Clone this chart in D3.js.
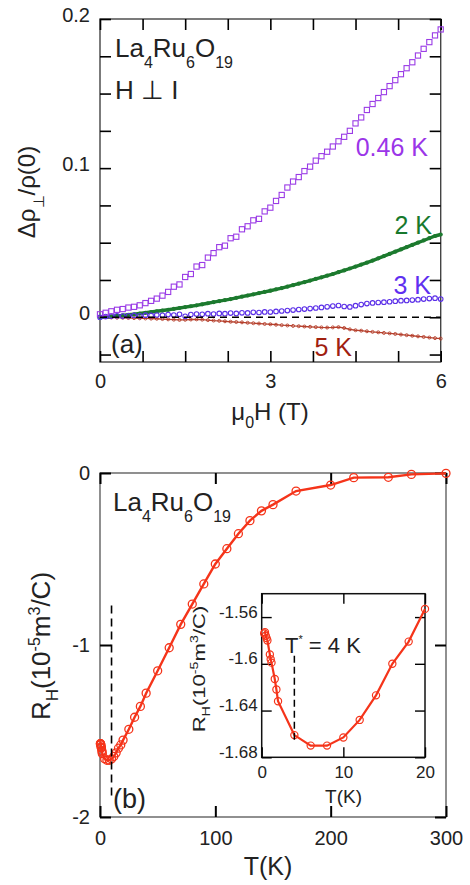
<!DOCTYPE html>
<html>
<head>
<meta charset="utf-8">
<script src="https://cdn.jsdelivr.net/npm/d3@7"></script>
<style>
  body { margin: 0; background: #fff; }
  svg { display: block; }
</style>
</head>
<body>
<div id="chart"></div>
<script>

// ---------- panel (a): magnetoresistance vs field ----------
let fieldH = [0,0.1,0.2,0.3,0.4,0.5,0.6,0.7,0.8,0.9,
	1.0,1.1,1.2,1.3,1.4,1.5,1.6,1.7,1.8,1.9,
	2.0,2.1,2.2,2.3,2.4,2.5,2.6,2.7,2.8,2.9,
	3.0,3.1,3.2,3.3,3.4,3.5,3.6,3.7,3.8,3.9,
	4.0,4.1,4.2,4.3,4.4,4.5,4.6,4.7,4.8,4.9,
	5.0,5.1,5.2,5.3,5.4,5.5,5.6,5.7,5.8,5.9,
	6.0];

let mr046K = [0.002,0.003,0.004,0.005,0.0055,0.0065,0.007,0.008,0.0095,0.011,
	0.0125,0.0145,0.017,0.0205,0.022,0.027,0.029,0.034,0.035,0.040,
	0.043,0.047,0.048,0.053,0.054,0.059,0.061,0.065,0.066,0.071,
	0.0735,0.078,0.082,0.087,0.091,0.094,0.098,0.101,0.105,0.108,
	0.111,0.1145,0.118,0.121,0.125,0.130,0.134,0.139,0.143,0.147,
	0.151,0.155,0.159,0.163,0.167,0.171,0.1755,0.180,0.1845,0.189,
	0.193];

let mr2K = [0,0.0003,0.0006,0.001,0.0013,0.0017,0.002,0.0025,0.003,0.0035,
	0.004,0.0045,0.005,0.0056,0.0062,0.0068,0.0074,0.008,0.0087,0.0094,
	0.0101,0.0108,0.0115,0.0122,0.013,0.0138,0.0146,0.0154,0.0162,0.017,
	0.0178,0.0187,0.0196,0.0205,0.0215,0.0225,0.0235,0.0246,0.0257,0.0268,
	0.0279,0.029,0.0302,0.0314,0.0327,0.034,0.0353,0.0366,0.038,0.0395,
	0.041,0.0425,0.044,0.0455,0.047,0.0485,0.050,0.0515,0.053,0.0545,
	0.0555];

let mr3K = [0,0.0005,0.0008,0.001,0.0008,0.001,0.0012,0.001,0.0014,0.0012,
	0.0015,0.0013,0.0018,0.0015,0.002,0.0006,0.0018,0.0022,0.002,0.0024,
	0.0022,0.0026,0.0024,0.0028,0.0026,0.003,0.0029,0.0033,0.0032,0.0036,
	0.0035,0.0039,0.0042,0.0045,0.0048,0.0052,0.0055,0.0058,0.0062,0.0066,
	0.007,0.0075,0.0079,0.0072,0.0069,0.0078,0.0085,0.0092,0.0096,0.0099,
	0.0101,0.0104,0.0108,0.0111,0.0113,0.0115,0.0118,0.0122,0.0125,0.0128,
	0.0122];

let mr5K = [0,0,-0.0002,-0.0003,-0.0004,-0.0005,-0.0006,-0.0007,-0.0008,-0.0009,
	-0.001,-0.0012,-0.0014,-0.0016,-0.0018,-0.0017,-0.0015,-0.0014,-0.0016,-0.0019,
	-0.0022,-0.0024,-0.0027,-0.003,-0.0032,-0.0034,-0.0037,-0.004,-0.0042,-0.0045,
	-0.0047,-0.005,-0.0053,-0.0055,-0.0058,-0.006,-0.0062,-0.0064,-0.0066,-0.0068,
	-0.0069,-0.0068,-0.0066,-0.0072,-0.0081,-0.0087,-0.009,-0.0094,-0.0098,-0.0101,
	-0.0105,-0.0108,-0.0112,-0.0116,-0.012,-0.0124,-0.0128,-0.0132,-0.0136,-0.014,
	-0.0143];

let seriesLabelsA = ["0.46 K", "2 K", "3 K", "5 K"];

let xTicksA = [0, 3, 6];
let xMinorA = [0.75, 1.5, 2.25, 3.75, 4.5, 5.25];
let yTicksA = [0, 0.1, 0.2];
let yMinorA = [-0.025, 0.025, 0.05, 0.075, 0.125, 0.15, 0.175];

// ---------- panel (b): Hall coefficient vs temperature ----------
let tempT = [0.3,0.4,0.5,0.6,0.7,1.0,1.1,1.2,1.6,1.8,
	2.0,4,6,8,10,12,14,16,18,20,
	25,30,35,40,50,60,70,80,90,100,
	110,120,130,140,150,170,200,220,250,270,
	300];

let hallRH = [-1.574,-1.573,-1.576,-1.578,-1.580,-1.592,-1.596,-1.599,-1.613,-1.622,
	-1.632,-1.661,-1.670,-1.670,-1.663,-1.648,-1.627,-1.600,-1.581,-1.553,
	-1.49,-1.42,-1.357,-1.28,-1.15,-1.016,-0.88,-0.762,-0.645,-0.529,
	-0.44,-0.353,-0.277,-0.22,-0.184,-0.105,-0.07,-0.027,-0.025,-0.008,
	-0.002];

let xTicksB = [0, 100, 200, 300];
let yTicksB = [0, -1, -2];

let xTicksInset = [0, 10, 20];
let yTicksInset = [-1.56, -1.6, -1.64, -1.68];
let yLabelsInset = ["-1.56", "-1.6", "-1.64", "-1.68"];

let tStar = 4;      // K, dashed marker in inset
let tMinMain = 10;  // K, dashed marker in main panel


const FONT = '"Liberation Sans", Arial, Helvetica, sans-serif';
const INK = "#222";
const RED = "#f5341a";

let viz = d3.select("#chart").append("svg")
	.attr("width", 470)
	.attr("height", 885)
	.style("background-color", "white")
	.attr("font-family", FONT)
;

// draws a box frame with inward ticks on all four sides plus labels
function drawBox(g, x, y, cfg){
	let [xl, xr] = x.range();
	let [yb, yt] = y.range();

	g.append("rect")
		.attr("x", xl).attr("y", yt)
		.attr("width", xr - xl).attr("height", yb - yt)
		.attr("fill", cfg.fill || "none")
		.attr("stroke", cfg.frameColor)
		.attr("stroke-width", cfg.frameW)
	;

	let xt = cfg.xTicks.concat(cfg.xMinor || []);
	let yt2 = cfg.yTicks.concat(cfg.yMinor || []);
	let sides = [
		[d3.axisBottom(x).tickValues(xt), "translate(0," + yb + ")"],
		[d3.axisTop(x).tickValues(xt), "translate(0," + yt + ")"],
		[d3.axisLeft(y).tickValues(yt2), "translate(" + xl + ",0)"],
		[d3.axisRight(y).tickValues(yt2), "translate(" + xr + ",0)"]
	];
	sides.forEach(function(s){
		let ax = g.append("g").attr("transform", s[1])
			.call(s[0].tickSize(-cfg.len).tickFormat(""));
		ax.select(".domain").remove();
		ax.selectAll("line").attr("stroke", "#000").attr("stroke-width", cfg.tickW);
	});

	// tick labels
	let bx = g.append("g").attr("transform", "translate(0," + yb + ")")
		.call(d3.axisBottom(x).tickValues(cfg.xTicks).tickSize(0).tickPadding(cfg.xPad)
			.tickFormat(cfg.xFormat));
	bx.select(".domain").remove();
	bx.attr("font-family", FONT).attr("font-size", cfg.fs);
	bx.selectAll("text").attr("fill", INK);

	let ly = g.append("g").attr("transform", "translate(" + xl + ",0)")
		.call(d3.axisLeft(y).tickValues(cfg.yTicks).tickSize(0).tickPadding(cfg.yPad)
			.tickFormat(cfg.yFormat));
	ly.select(".domain").remove();
	ly.attr("font-family", FONT).attr("font-size", cfg.fs);
	ly.selectAll("text").attr("fill", INK).attr("dy", cfg.yDy);
}


// ================= panel (a) =================
let xA = d3.scaleLinear().domain([0, 6]).range([100, 440.7]);
let yA = d3.scaleLinear().domain([-0.03, 0.2]).range([362, 19]);

let gA = viz.append("g").attr("class", "panelA");

drawBox(gA, xA, yA, {
	xTicks: xTicksA, xMinor: xMinorA, yTicks: yTicksA, yMinor: yMinorA,
	len: 11, tickW: 1.6, frameColor: "#444", frameW: 1.4,
	fs: 20, xPad: 12, yPad: 10, yDy: "0.12em",
	xFormat: function(d){ return String(d); },
	yFormat: function(d){ return String(d); }
});

let ptsA = function(vals){ return fieldH.map(function(h, i){ return [h, vals[i]]; }); };
let lineA = d3.line().x(function(d){ return xA(d[0]); }).y(function(d){ return yA(d[1]); });

// 5 K : small brown markers along a thin trace
gA.append("path").datum(ptsA(mr5K))
	.attr("d", lineA).attr("fill", "none").attr("stroke", "#b5402c").attr("stroke-width", 1.3);
gA.selectAll(".p5").data(ptsA(mr5K)).enter().append("circle")
	.attr("class", "p5")
	.attr("cx", function(d){ return xA(d[0]); })
	.attr("cy", function(d){ return yA(d[1]); })
	.attr("r", 1.5).attr("fill", "none").attr("stroke", "#b5402c").attr("stroke-width", 0.9);

// 2 K : dense filled green markers
gA.append("path").datum(ptsA(mr2K))
	.attr("d", lineA).attr("fill", "none").attr("stroke", "#1c7a2e").attr("stroke-width", 3.4);
gA.selectAll(".p2").data(ptsA(mr2K)).enter().append("circle")
	.attr("class", "p2")
	.attr("cx", function(d){ return xA(d[0]); })
	.attr("cy", function(d){ return yA(d[1]); })
	.attr("r", 2.1).attr("fill", "#1c7a2e");

// 3 K : open blue-violet circles
gA.selectAll(".p3").data(ptsA(mr3K)).enter().append("circle")
	.attr("class", "p3")
	.attr("cx", function(d){ return xA(d[0]); })
	.attr("cy", function(d){ return yA(d[1]); })
	.attr("r", 2.3).attr("fill", "none").attr("stroke", "#5a2ee8").attr("stroke-width", 1.1);

// 0.46 K : open purple squares
gA.selectAll(".p046").data(ptsA(mr046K)).enter().append("rect")
	.attr("class", "p046")
	.attr("x", function(d){ return xA(d[0]) - 2.6; })
	.attr("y", function(d){ return yA(d[1]) - 2.6; })
	.attr("width", 5.2).attr("height", 5.2)
	.attr("fill", "none").attr("stroke", "#9a3be6").attr("stroke-width", 1.1);

// zero reference
gA.append("line")
	.attr("x1", xA(0)).attr("x2", xA(6))
	.attr("y1", yA(0)).attr("y2", yA(0))
	.attr("stroke", "#000").attr("stroke-width", 1.5).attr("stroke-dasharray", "7,5");

// series labels
let labA = [
	{x: 428, y: 156, c: "#9b35e8"},
	{x: 432, y: 234, c: "#17792d"},
	{x: 431, y: 294, c: "#5f2ff0"},
	{x: 352, y: 356, c: "#a0200f"}
];
gA.selectAll(".slab").data(seriesLabelsA).enter().append("text")
	.attr("class", "slab")
	.attr("x", function(d, i){ return labA[i].x; })
	.attr("y", function(d, i){ return labA[i].y; })
	.attr("text-anchor", "end")
	.attr("font-size", 25)
	.attr("fill", function(d, i){ return labA[i].c; })
	.text(function(d){ return d; });

// compound name + geometry
function formula(g, x, y, fs, sub){
	let t = g.append("text").attr("x", x).attr("y", y).attr("font-size", fs).attr("fill", INK);
	t.append("tspan").text("La");
	t.append("tspan").attr("font-size", sub).attr("dy", 11).text("4");
	t.append("tspan").attr("dy", -11).text("Ru");
	t.append("tspan").attr("font-size", sub).attr("dy", 11).text("6");
	t.append("tspan").attr("dy", -11).text("O");
	t.append("tspan").attr("font-size", sub).attr("dy", 11).text("19");
}
formula(gA, 115, 57, 26, 16);
gA.append("text").attr("x", 115).attr("y", 99).attr("font-size", 26).attr("fill", INK).text("H \u22A5 I");
gA.append("text").attr("x", 111).attr("y", 353).attr("font-size", 26).attr("fill", INK).text("(a)");

// axis titles (a)
let xtA = gA.append("text").attr("x", 270).attr("y", 420).attr("text-anchor", "middle")
	.attr("font-size", 24).attr("fill", INK);
xtA.append("tspan").text("\u03BC");
xtA.append("tspan").attr("font-size", 16).attr("dy", 8).text("0");
xtA.append("tspan").attr("dy", -8).text("H (T)");

let ytA = gA.append("text").attr("transform", "translate(35,192) rotate(-90)")
	.attr("text-anchor", "middle").attr("font-size", 24).attr("fill", INK);
ytA.append("tspan").text("\u0394\u03C1");
ytA.append("tspan").attr("font-size", 15).attr("dy", 9).text("\u22A5");
ytA.append("tspan").attr("dy", -9).text("/\u03C1(0)");


// ================= panel (b) =================
let xB = d3.scaleLinear().domain([0, 300]).range([100, 446]);
let yB = d3.scaleLinear().domain([-2, 0]).range([817, 473]);

let gB = viz.append("g").attr("class", "panelB");

drawBox(gB, xB, yB, {
	xTicks: xTicksB, yTicks: yTicksB,
	len: 11, tickW: 2, frameColor: "#555", frameW: 1.3,
	fs: 20, xPad: 14, yPad: 10, yDy: "0.3em",
	xFormat: function(d){ return String(d); },
	yFormat: function(d){ return String(d); }
});

let ptsB = tempT.map(function(t, i){ return [t, hallRH[i]]; });
let lineB = d3.line().x(function(d){ return xB(d[0]); }).y(function(d){ return yB(d[1]); });

gB.append("path").datum(ptsB)
	.attr("d", lineB).attr("fill", "none").attr("stroke", RED).attr("stroke-width", 2.4);
gB.selectAll(".pb").data(ptsB).enter().append("circle")
	.attr("class", "pb")
	.attr("cx", function(d){ return xB(d[0]); })
	.attr("cy", function(d){ return yB(d[1]); })
	.attr("r", 4).attr("fill", "none").attr("stroke", RED).attr("stroke-width", 1.3);

gB.append("line")
	.attr("x1", xB(tMinMain)).attr("x2", xB(tMinMain))
	.attr("y1", yB(-0.77)).attr("y2", yB(-1.88))
	.attr("stroke", "#000").attr("stroke-width", 1.6).attr("stroke-dasharray", "8,5");

formula(gB, 113, 511, 26, 16);
gB.append("text").attr("x", 113).attr("y", 808).attr("font-size", 27).attr("fill", INK).text("(b)");

gB.append("text").attr("x", 268).attr("y", 875).attr("text-anchor", "middle")
	.attr("font-size", 25).attr("fill", INK).text("T(K)");

let ytB = gB.append("text").attr("transform", "translate(50,646) rotate(-90)")
	.attr("text-anchor", "middle").attr("font-size", 26).attr("fill", INK);
ytB.append("tspan").text("R");
ytB.append("tspan").attr("font-size", 17).attr("dy", 8).text("H");
ytB.append("tspan").attr("dy", -8).text("(10");
ytB.append("tspan").attr("font-size", 16).attr("dy", -10).text("-5");
ytB.append("tspan").attr("dy", 10).text("m");
ytB.append("tspan").attr("font-size", 16).attr("dy", -10).text("3");
ytB.append("tspan").attr("dy", 10).text("/C)");


// ================= inset =================
let xI = d3.scaleLinear().domain([0, 20]).range([261.7, 425]);
let yI = d3.scaleLinear().domain([-1.68, -1.54]).range([757.3, 593.7]);

let gI = viz.append("g").attr("class", "inset");

drawBox(gI, xI, yI, {
	xTicks: xTicksInset, yTicks: yTicksInset,
	len: 10, tickW: 1.4, frameColor: "#111", frameW: 1.5, fill: "white",
	fs: 17, xPad: 9, yPad: 4, yDy: "0em",
	xFormat: function(d){ return String(d); },
	yFormat: function(d, i){ return yLabelsInset[i]; }
});

let ptsI = ptsB.filter(function(d){ return d[0] <= 20; });
let lineI = d3.line().x(function(d){ return xI(d[0]); }).y(function(d){ return yI(d[1]); });

gI.append("path").datum(ptsI)
	.attr("d", lineI).attr("fill", "none").attr("stroke", RED).attr("stroke-width", 2.2);
gI.selectAll(".pi").data(ptsI).enter().append("circle")
	.attr("class", "pi")
	.attr("cx", function(d){ return xI(d[0]); })
	.attr("cy", function(d){ return yI(d[1]); })
	.attr("r", 3.6).attr("fill", "none").attr("stroke", RED).attr("stroke-width", 1.2);

gI.append("line")
	.attr("x1", xI(tStar)).attr("x2", xI(tStar))
	.attr("y1", yI(-1.593)).attr("y2", yI(-1.667))
	.attr("stroke", "#000").attr("stroke-width", 1.5).attr("stroke-dasharray", "7,4");

let ts = gI.append("text").attr("x", 285).attr("y", 653).attr("font-size", 22).attr("fill", INK);
ts.append("tspan").text("T");
ts.append("tspan").attr("font-size", 11).attr("dy", -10).text("*");
ts.append("tspan").attr("dy", 10).text(" = 4 K");

gI.append("text").attr("x", 343.5).attr("y", 803).attr("text-anchor", "middle")
	.attr("font-size", 19).attr("fill", INK).text("T(K)");

let ytI = gI.append("text").attr("transform", "translate(205,669) rotate(-90) scale(1.3,1)")
	.attr("text-anchor", "middle").attr("font-size", 17).attr("fill", INK);
ytI.append("tspan").text("R");
ytI.append("tspan").attr("font-size", 11).attr("dy", 5).text("H");
ytI.append("tspan").attr("dy", -5).text("(10");
ytI.append("tspan").attr("font-size", 11).attr("dy", -7).text("-5");
ytI.append("tspan").attr("dy", 7).text("m");
ytI.append("tspan").attr("font-size", 11).attr("dy", -7).text("3");
ytI.append("tspan").attr("dy", 7).text("/C)");

</script>
</body>
</html>
